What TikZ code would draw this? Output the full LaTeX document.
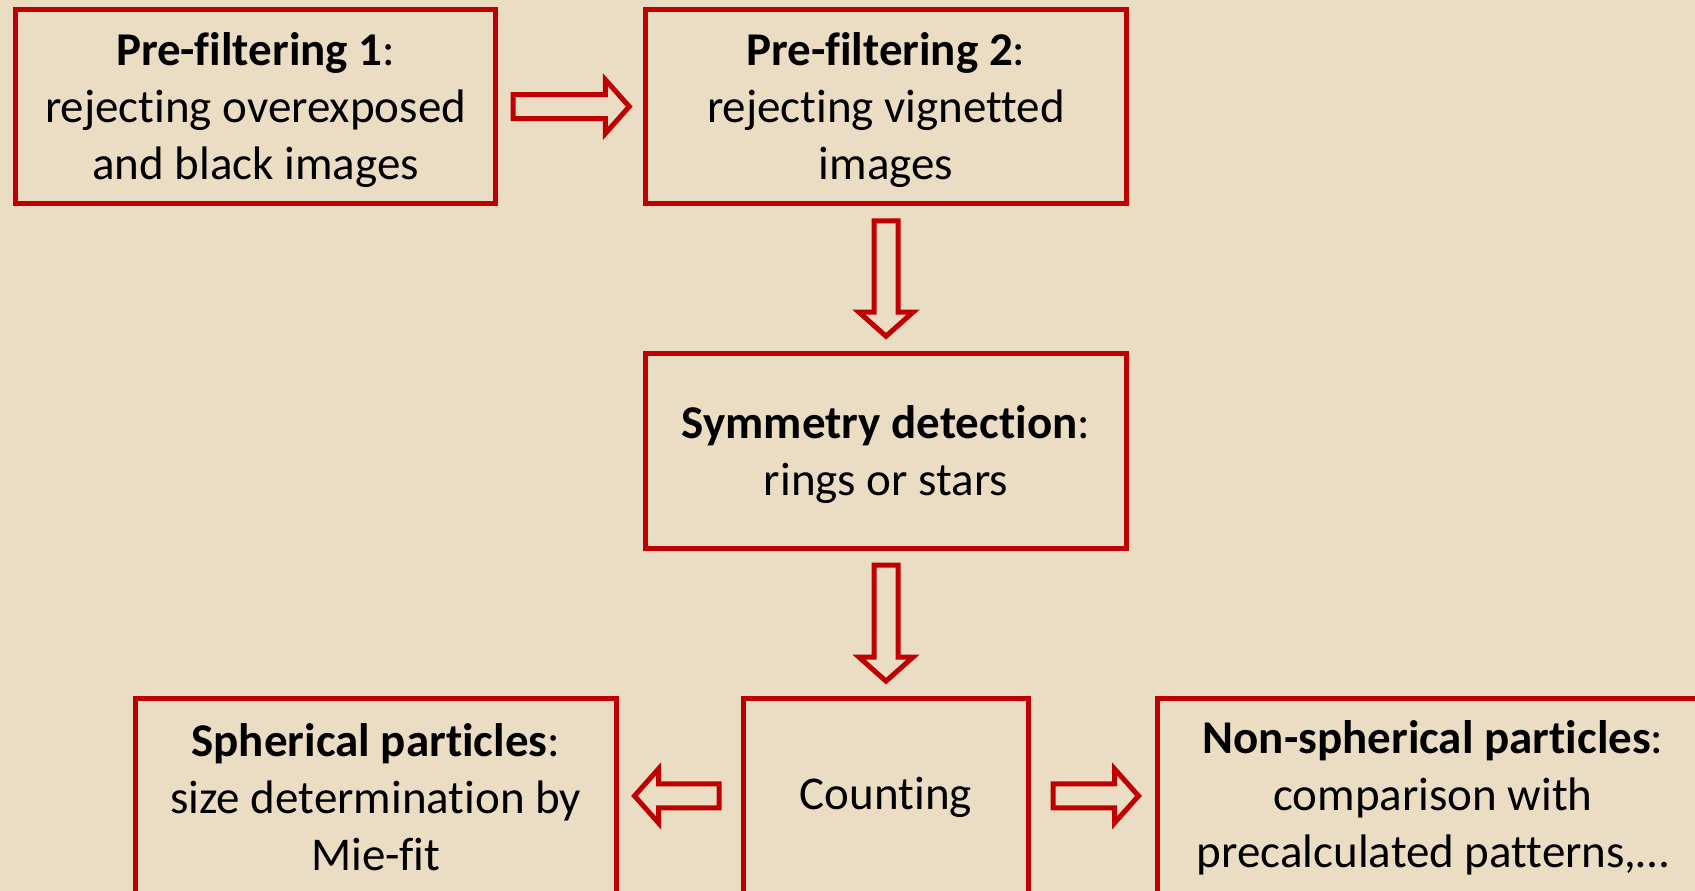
\documentclass[tikz,border=0pt]{standalone}
\usepackage{fontspec}
\setmainfont{Carlito}[Ligatures={NoCommon}]
\usetikzlibrary{calc}
\definecolor{paper}{RGB}{235,221,195}
\definecolor{boxred}{RGB}{192,0,0}
\tikzset{
  stage/.style={draw=boxred, line width=5pt, fill=paper,
    inner sep=0pt, minimum height=194.5pt},
  stagetext/.style={align=center, inner sep=0pt, yshift=-3.7pt,
    font=\fontsize{47}{57}\selectfont},
  lowtext/.style={stagetext, yshift=2pt},
  hollow/.style={draw=boxred, line width=5pt, fill=paper, line join=miter},
}
% Outlined block arrow from #1 to #2 (shaft half-width 12, head half-width 27)
\newcommand\hollowarrow[2]{%
  \draw[hollow] let \p1=(#1), \p2=(#2),
      \n1={veclen(\x2-\x1,\y2-\y1)}, \n2={atan2(\y2-\y1,\x2-\x1)} in
    {[shift={(\p1)}, rotate=\n2]
     (0,-12) -- ({\n1-24},-12) -- ({\n1-24},-27) -- (\n1,0)
     -- ({\n1-24},27) -- ({\n1-24},12) -- (0,12) -- cycle};}

\begin{document}
\begin{tikzpicture}[x=1pt,y=1pt]
\fill[paper] (0,0) rectangle (1695,891);
\useasboundingbox (0,0) rectangle (1695,891);
\clip (0,0) rectangle (1695,891);

\node[stage, minimum width=480pt, label={[stagetext]center:{%
  \textbf{Pre-filtering 1}:\\rejecting overexposed\\and black images}}]
  (pre1) at (255.6,784.4) {};
\node[stage, minimum width=480.5pt, label={[stagetext]center:{%
  \textbf{Pre-filtering 2}:\\rejecting vignetted\\images}}]
  (pre2) at (886,784.4) {};
\node[stage, minimum width=480.5pt, label={[stagetext]center:{%
  \textbf{Symmetry detection}:\\rings or stars}}]
  (sym) at (886,440) {};
\node[stage, minimum width=285pt, label={[lowtext]center:{Counting}}]
  (count) at (886,95.1) {};
\node[stage, minimum width=480.5pt, label={[lowtext]center:{%
  \textbf{Spherical particles}:\\size determination by\\Mie-fit}}]
  (sph) at (375.75,95.1) {};
\node[stage, minimum width=552pt, label={[lowtext]center:{%
  \textbf{Non-spherical particles}:\\comparison with\\precalculated patterns,…}}]
  (nonsph) at (1433,95.1) {};

\hollowarrow{$(pre1.east)+(15,0)$}{$(pre2.west)+(-14,0)$}
\hollowarrow{$(pre2.south)+(0,-14.5)$}{$(sym.north)+(0,15)$}
\hollowarrow{$(sym.south)+(0,-14.5)$}{$(count.north)+(0,15)$}
\hollowarrow{$(count.west)+(-22,0)$}{$(sph.east)+(16,0)$}
\hollowarrow{$(count.east)+(22,0)$}{$(nonsph.west)+(-16,0)$}
\end{tikzpicture}
\end{document}
